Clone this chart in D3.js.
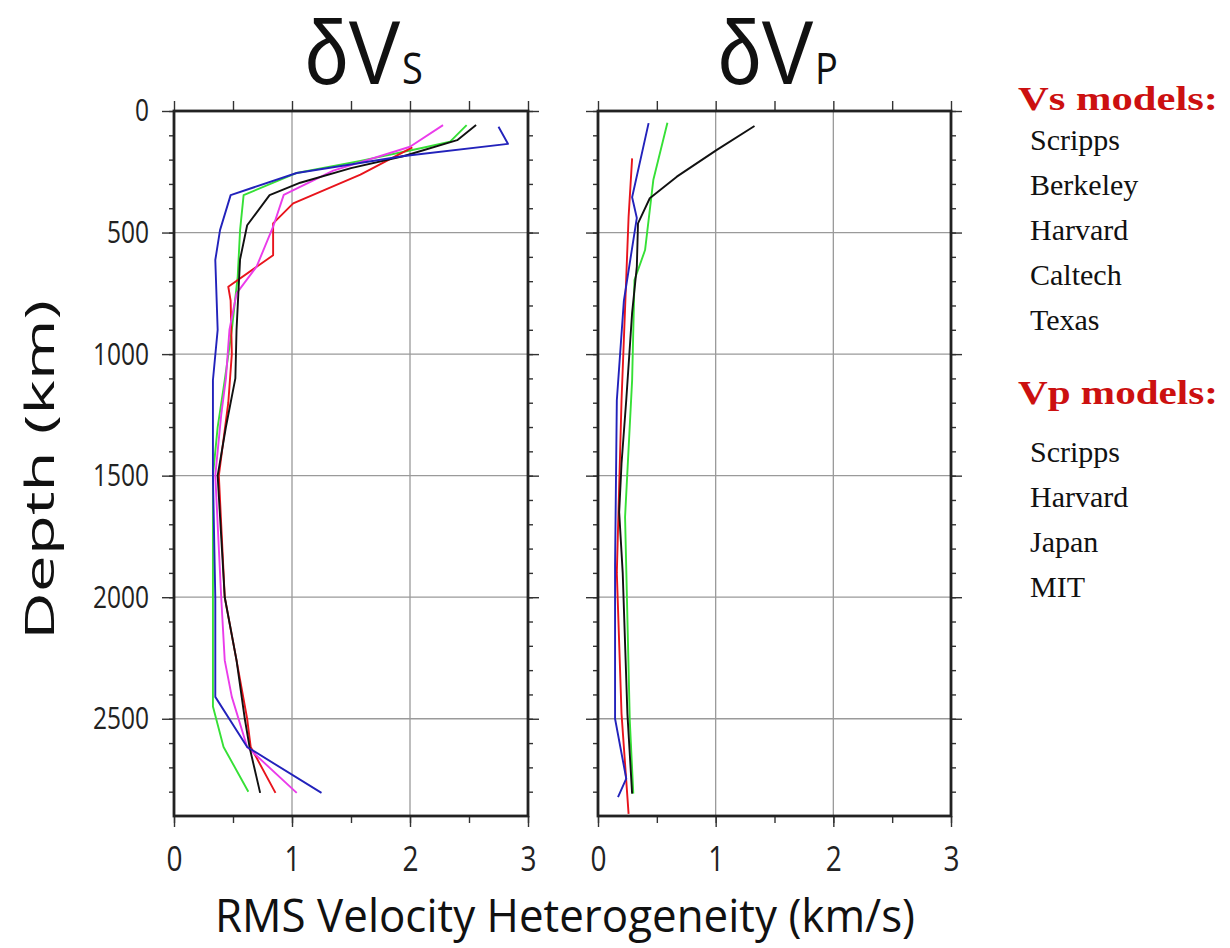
<!DOCTYPE html>
<html>
<head>
<meta charset="utf-8">
<script src="https://cdn.jsdelivr.net/npm/d3@7"></script>
<style>
  body { margin: 0; background: #fff; }
  svg { display: block; }
</style>
</head>
<body>
<svg width="1230" height="948"></svg>
<script>
// values: [rms km/s, depth km]
var depthTicks = [0, 500, 1000, 1500, 2000, 2500];
var rmsTicks = [0, 1, 2, 3];
var vsModels = ["Scripps", "Berkeley", "Harvard", "Caltech", "Texas"];
var vpModels = ["Scripps", "Harvard", "Japan", "MIT"];

var vsBlue = [[2.75,65],[2.83,135],[1.95,185],[1.04,255],[0.48,346],[0.39,490],[0.35,613],[0.37,900],[0.33,1107],[0.33,1500],[0.35,2000],[0.35,2410],[0.62,2616],[1.25,2805]];
var vsGreen = [[2.48,58],[2.34,126],[2.12,150],[1.58,205],[1.04,255],[0.59,346],[0.56,490],[0.54,680],[0.49,900],[0.43,1107],[0.37,1300],[0.33,1500],[0.33,2000],[0.33,2450],[0.42,2616],[0.63,2800]];
var vsBlack = [[2.56,58],[2.40,120],[1.95,185],[1.5,235],[1.07,295],[0.81,346],[0.62,470],[0.56,610],[0.53,900],[0.52,1100],[0.44,1300],[0.37,1500],[0.43,2000],[0.53,2260],[0.6,2500],[0.64,2616],[0.73,2805]];
var vsRed = [[2.02,150],[1.58,262],[1.01,380],[0.84,462],[0.84,593],[0.46,723],[0.48,780],[0.49,1000],[0.46,1200],[0.38,1500],[0.43,2000],[0.53,2260],[0.62,2500],[0.65,2616],[0.86,2805]];
var vsMagenta = [[2.28,58],[2.0,147],[1.35,245],[0.93,345],[0.84,476],[0.70,640],[0.53,750],[0.47,900],[0.44,1100],[0.40,1250],[0.35,1500],[0.40,2000],[0.43,2260],[0.49,2410],[0.62,2616],[1.04,2805]];

var vpBlack = [[1.33,62],[1.01,160],[0.67,270],[0.44,359],[0.34,462],[0.33,640],[0.29,830],[0.24,1190],[0.20,1450],[0.18,1650],[0.21,1900],[0.25,2480],[0.29,2808]];
var vpBlue = [[0.43,50],[0.29,355],[0.33,440],[0.22,780],[0.16,1190],[0.145,1870],[0.145,2500],[0.24,2746],[0.17,2822]];
var vpRed = [[0.29,195],[0.26,435],[0.20,1190],[0.16,1900],[0.20,2480],[0.26,2891]];
var vpGreen = [[0.59,48],[0.47,284],[0.40,572],[0.31,695],[0.29,1107],[0.23,1670],[0.27,2506],[0.30,2808]];

var colors = {red: "#e8141c", green: "#36e036", blue: "#2222bb", magenta: "#ea3cea", black: "#111"};
var vsLines = [[vsGreen, colors.green], [vsRed, colors.red], [vsMagenta, colors.magenta], [vsBlack, colors.black], [vsBlue, colors.blue]];
var vpLines = [[vpGreen, colors.green], [vpRed, colors.red], [vpBlack, colors.black], [vpBlue, colors.blue]];

var svg = d3.select("svg");
var sans = "'Open Sans', 'DejaVu Sans', sans-serif";

var y = d3.scaleLinear().domain([0, 2900]).range([111, 816]);
var xLeft = d3.scaleLinear().domain([0, 3]).range([174, 528]);
var xRight = d3.scaleLinear().domain([0, 3]).range([598, 951]);

var drawPanel = function(x, lines, labelsLeft) {
  var g = svg.append("g");
  var top = y.range()[0], bot = y.range()[1];
  var x0 = x.range()[0], x1 = x.range()[1];

  // grid
  g.selectAll(".gx").data([1, 2]).enter().append("line")
    .attr("x1", function(d) { return x(d); }).attr("x2", function(d) { return x(d); })
    .attr("y1", top).attr("y2", bot)
    .attr("stroke", "#9a9a9a").attr("stroke-width", 1.3);
  g.selectAll(".gy").data(depthTicks.slice(1)).enter().append("line")
    .attr("x1", x0).attr("x2", x1)
    .attr("y1", function(d) { return y(d); }).attr("y2", function(d) { return y(d); })
    .attr("stroke", "#9a9a9a").attr("stroke-width", 1.3);

  // curves
  var line = d3.line().x(function(d) { return x(d[0]); }).y(function(d) { return y(d[1]); });
  lines.forEach(function(l) {
    g.append("path").attr("d", line(l[0]))
      .attr("fill", "none").attr("stroke", l[1]).attr("stroke-width", 1.9)
      .attr("stroke-linejoin", "round");
  });

  // ticks
  var minorDepth = d3.range(0, 2900, 100);
  var halfRms = d3.range(0, 3.01, 0.5);
  var axes = [
    [d3.axisLeft(y).tickValues(minorDepth).tickSize(5).tickFormat(""), "translate(" + x0 + ",0)"],
    [d3.axisRight(y).tickValues(minorDepth).tickSize(5).tickFormat(""), "translate(" + x1 + ",0)"],
    [d3.axisRight(y).tickValues(depthTicks).tickSize(11).tickFormat(""), "translate(" + x1 + ",0)"],
    [d3.axisTop(x).tickValues(halfRms).tickSize(10).tickFormat(""), "translate(0," + top + ")"],
    [d3.axisBottom(x).tickValues(halfRms).tickSize(7).tickFormat(""), "translate(0," + bot + ")"]
  ];
  axes.forEach(function(a) {
    var ag = g.append("g").attr("transform", a[1]).call(a[0]);
    ag.select(".domain").remove();
    ag.selectAll("line").attr("stroke", "#333").attr("stroke-width", 1.4);
  });

  var left = g.append("g").attr("transform", "translate(" + x0 + ",0)")
    .call(d3.axisLeft(y).tickValues(depthTicks).tickSize(12).tickPadding(13)
      .tickFormat(labelsLeft ? d3.format("d") : ""));
  left.select(".domain").remove();
  left.selectAll("line").attr("stroke", "#333").attr("stroke-width", 1.4);
  left.selectAll("text").attr("font-family", sans).attr("font-size", 31).attr("fill", "#222")
    .attr("textLength", function(d) { return String(d).length * 14; })
    .attr("lengthAdjust", "spacingAndGlyphs");

  var bottom = g.append("g").attr("transform", "translate(0," + bot + ")")
    .call(d3.axisBottom(x).tickValues(rmsTicks).tickSize(11).tickPadding(19).tickFormat(d3.format("d")));
  bottom.select(".domain").remove();
  bottom.selectAll("line").attr("stroke", "#333").attr("stroke-width", 1.4);
  bottom.selectAll("text").attr("font-family", sans).attr("font-size", 35).attr("fill", "#222")
    .attr("textLength", 16).attr("lengthAdjust", "spacingAndGlyphs");

  // frame
  g.append("rect").attr("x", x0).attr("y", top).attr("width", x1 - x0).attr("height", bot - top)
    .attr("fill", "none").attr("stroke", "#222").attr("stroke-width", 2.8);
};

drawPanel(xLeft, vsLines, true);
drawPanel(xRight, vpLines, false);

// titles: big "δV" and a small capital after it, stretched a bit tall
var title = function(xStart, sub) {
  svg.append("text").attr("transform", "translate(" + xStart + ",84) scale(1,1.17)")
    .attr("font-family", "'Liberation Sans', sans-serif").attr("font-size", 78).attr("fill", "#111")
    .text("\u03b4V");
  svg.append("text").attr("transform", "translate(" + (xStart + 97) + ",84) scale(1,1.17)")
    .attr("font-family", sans).attr("font-size", 38).attr("fill", "#111")
    .text(sub);
};
title(305, "S");
title(718, "P");

svg.append("text")
  .attr("transform", "translate(54,470) rotate(-90)")
  .attr("text-anchor", "middle").attr("font-family", sans).attr("font-size", 40).attr("fill", "#111")
  .attr("textLength", 340).attr("lengthAdjust", "spacingAndGlyphs")
  .text("Depth (km)");

svg.append("text").attr("x", 215).attr("y", 932)
  .attr("font-family", sans).attr("font-size", 46).attr("fill", "#111")
  .attr("textLength", 700).attr("lengthAdjust", "spacingAndGlyphs")
  .text("RMS Velocity Heterogeneity (km/s)");

// legend
var serif = "'Liberation Serif', 'Times New Roman', serif";
var legend = function(head, names, yHead, yFirst) {
  svg.append("text").attr("x", 1018).attr("y", yHead)
    .attr("font-family", serif).attr("font-weight", "bold").attr("font-size", 34).attr("fill", "#cc1010")
    .attr("textLength", 200).attr("lengthAdjust", "spacingAndGlyphs")
    .text(head);
  svg.selectAll(null).data(names).enter().append("text")
    .attr("x", 1030).attr("y", function(d, i) { return yFirst + i * 45; })
    .attr("font-family", serif).attr("font-size", 30).attr("fill", "#111")
    .text(function(d) { return d; });
};
legend("Vs models:", vsModels, 110, 150);
legend("Vp models:", vpModels, 404, 462);
</script>
</body>
</html>
